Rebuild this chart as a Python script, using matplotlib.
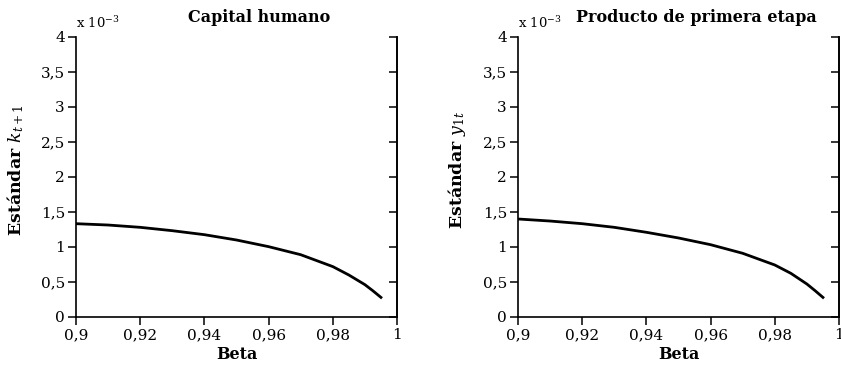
import matplotlib
matplotlib.use('Agg')
import matplotlib.pyplot as plt

# values (units of 1e-3)
beta = [0.90, 0.91, 0.92, 0.93, 0.94, 0.95, 0.96, 0.97, 0.98, 0.985, 0.99, 0.9925, 0.995]
std_k = [1.333, 1.314, 1.281, 1.233, 1.176, 1.10, 1.005, 0.89, 0.72, 0.60, 0.462, 0.374, 0.28]
std_y = [1.40, 1.371, 1.333, 1.281, 1.21, 1.129, 1.033, 0.91, 0.743, 0.624, 0.471, 0.378, 0.28]

yticks = [0, 0.5, 1, 1.5, 2, 2.5, 3, 3.5, 4]
xticks = [0.9, 0.92, 0.94, 0.96, 0.98, 1.0]

titles = ['Capital humano', 'Producto de primera etapa']
ylabels = [r'Estándar $k_{t+1}$', r'Estándar $y_{1t}$']

plt.rcParams['font.family'] = 'DejaVu Serif'
plt.rcParams['mathtext.fontset'] = 'dejavuserif'

fig = plt.figure(figsize=(8.41, 3.66), dpi=100)
W, H = 841, 366

def fmt(v):
    return ('%g' % v).replace('.', ',')

def draw(left_px, series, title, ylabel, title_x):
    ax = fig.add_axes([left_px / W, (H - 317) / H, 321 / W, 280 / H])
    ax.plot(beta, series, color='black', linewidth=2.0, solid_joinstyle='round')
    ax.set_xlim(0.9, 1.0)
    ax.set_ylim(0, 4)
    ax.set_xticks(xticks)
    ax.set_xticklabels([fmt(v) for v in xticks])
    ax.set_yticks(yticks)
    ax.set_yticklabels([fmt(v) for v in yticks])
    ax.spines['top'].set_visible(False)
    for s in ['left', 'bottom', 'right']:
        ax.spines[s].set_linewidth(1.2)
    ax.tick_params(direction='out', length=6, width=1.1, labelsize=11, pad=2)

    # right side ticks pointing in
    tw = ax.twinx()
    tw.set_ylim(0, 4)
    tw.set_yticks(yticks)
    tw.tick_params(direction='in', length=6, width=1.1, labelright=False)
    for s in ['top', 'left', 'bottom']:
        tw.spines[s].set_visible(False)
    tw.spines['right'].set_linewidth(1.2)

    ax.set_xlabel('Beta', fontsize=11.5, fontweight='bold')
    ax.xaxis.set_label_coords(0.5, -0.105)
    ax.set_ylabel(ylabel, fontsize=12.5, fontweight='bold')
    ax.yaxis.set_label_coords(-0.156, 0.525)
    ax.text(title_x, 1.04, title, transform=ax.transAxes, ha='center',
            va='bottom', fontsize=11.5, fontweight='bold')
    ax.text(0.0, 1.02, r'x 10$^{-3}$', transform=ax.transAxes, ha='left',
            va='bottom', fontsize=9.5)

draw(76, std_k, titles[0], ylabels[0], 0.57)
draw(518, std_y, titles[1], ylabels[1], 0.555)

fig.savefig('out.png', dpi=100)
